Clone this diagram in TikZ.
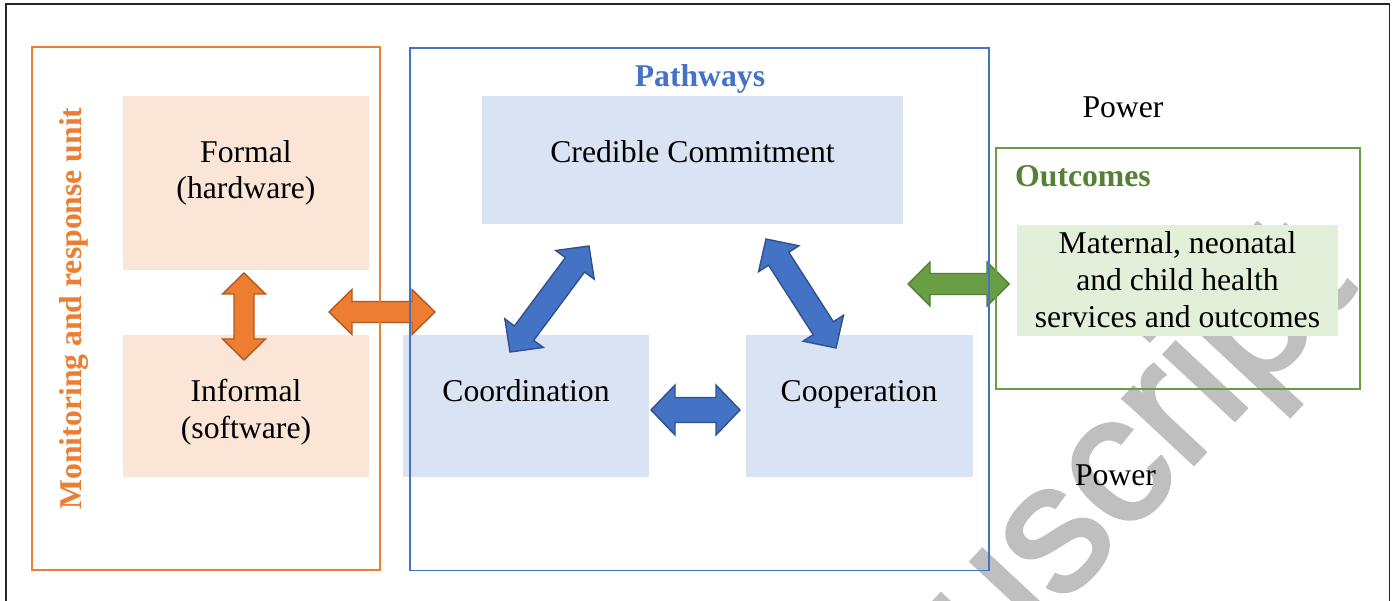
\documentclass[tikz,border=0pt]{standalone}
\usepackage{fontspec}
\setmainfont{Liberation Serif}
\newfontfamily\wmfont[FakeBold=2]{Liberation Sans}
\usetikzlibrary{calc,fit}
\definecolor{orgline}{HTML}{ED7D31}
\definecolor{orgfill}{HTML}{FBE5D6}
\definecolor{orgdark}{HTML}{AE5A21}
\definecolor{bluline}{HTML}{4472C4}
\definecolor{blufill}{HTML}{DAE3F3}
\definecolor{bludark}{HTML}{2F528F}
\definecolor{grnline}{HTML}{6A9E45}
\definecolor{grntext}{HTML}{548235}
\definecolor{grnfill}{HTML}{E2F0D9}
\definecolor{grndark}{HTML}{507E32}
\definecolor{wmgray}{HTML}{BFBFBF}
% #1 style, #2 start, #3 end, #4 shaft half width, #5 head half width, #6 head length, #7 name
\newcommand\blockarrow[7]{%
  \coordinate (#7-a) at ($(#2)!#6!(#3)$);
  \coordinate (#7-b) at ($(#3)!#6!(#2)$);
  \draw[#1] (#2) -- ($(#7-a)!#5!90:(#3)$) -- ($(#7-a)!#4!90:(#3)$)
    -- ($(#7-b)!#4!-90:(#2)$) -- ($(#7-b)!#5!-90:(#2)$) -- (#3)
    -- ($(#7-b)!#5!90:(#2)$) -- ($(#7-b)!#4!90:(#2)$)
    -- ($(#7-a)!#4!-90:(#3)$) -- ($(#7-a)!#5!-90:(#3)$) -- cycle;
}
\begin{document}
\begin{tikzpicture}[x=1pt,y=-1pt,
  txt/.style={font=\fontsize{31.7}{36.5}\selectfont, inner sep=0pt, align=center},
  btxt/.style={font=\fontsize{31.7}{36.5}\selectfont\bfseries, inner sep=0pt},
  fillbox/.style={inner sep=0pt, draw=none},
  framebox/.style={inner sep=0pt, line width=1.3pt},
  orgarrow/.style={fill=orgline, draw=orgdark, line width=1.4pt},
  bluarrow/.style={fill=bluline, draw=bludark, line width=1.4pt},
  grnarrow/.style={fill=grnline, draw=grndark, line width=1.4pt}
]
\useasboundingbox (0,0) rectangle (1392,601);
\fill[white] (0,0) rectangle (1392,601);

% watermark
\begin{scope}
\clip (0,0) rectangle (1392,601);
\node[font=\wmfont\fontsize{182}{182}\selectfont, text=wmgray, rotate=47,
      anchor=base east, inner sep=0pt] (wm) at (1358,288) {Manuscript};
\end{scope}

% box fills
\node[fillbox, fill=orgfill, fit={(123,96) (369,270)}] (formal) {};
\node[fillbox, fill=orgfill, fit={(123,335) (369,477)}] (informal) {};
\node[fillbox, fill=blufill, fit={(482,96) (903,224)}] (credible) {};
\node[fillbox, fill=blufill, fit={(403,335) (649,477)}] (coord) {};
\node[fillbox, fill=blufill, fit={(746,335) (973,477)}] (coop) {};
\node[fillbox, fill=grnfill, fit={(1017,225) (1338,336)}] (maternal) {};

% arrow end points
\coordinate (ov1) at (244,273);  \coordinate (ov2) at (244,360);
\coordinate (oh1) at (329,312);  \coordinate (oh2) at (435,312);
\coordinate (bh1) at (651,410);  \coordinate (bh2) at (740,410);
\coordinate (bl1) at (589,246);  \coordinate (bl2) at (510,352);
\coordinate (br1) at (766,239);  \coordinate (br2) at (836,348);
\coordinate (gh1) at (908,284);  \coordinate (gh2) at (1009,284);

\blockarrow{orgarrow}{ov1}{ov2}{10pt}{21.5pt}{21pt}{aov}
\blockarrow{orgarrow}{oh1}{oh2}{10.5pt}{22.5pt}{23pt}{aoh}
\blockarrow{bluarrow}{bh1}{bh2}{12.5pt}{25pt}{24pt}{abh}
\blockarrow{bluarrow}{bl1}{bl2}{12pt}{24pt}{23.5pt}{abl}
\blockarrow{bluarrow}{br1}{br2}{12pt}{24pt}{23.5pt}{abr}
\blockarrow{grnarrow}{gh1}{gh2}{10.5pt}{22pt}{22pt}{agh}

% frames
\draw[line width=1.5pt, black!85] (6,4) rectangle (1389.5,640);
\node[framebox, draw=orgline, fit={(32,47) (380,570)}] (mru) {};
\node[framebox, draw=bluline, fit={(410,48) (989,570.5)}] (pathways) {};
\node[framebox, draw=grnline, fit={(996,148) (1360,389)}] (outcomes) {};

% texts
\node[btxt, text=orgline, rotate=90, anchor=base] (mruT) at (81.7,308.5) {Monitoring and response unit};
\node[txt] (formalT) at (246,173) {Formal\\(hardware)};
\node[txt] (informalT) at (246,412.2) {Informal\\(software)};
\node[btxt, text=bluline, anchor=base] (pathT) at (700,87) {Pathways};
\node[txt, anchor=base] (credT) at (692.5,163) {Credible Commitment};
\node[txt, anchor=base] (coordT) at (526,402) {Coordination};
\node[txt, anchor=base] (coopT) at (859,402) {Cooperation};
\node[btxt, text=grntext, anchor=base west] (outT) at (1015,187) {Outcomes};
\node[txt, font=\fontsize{31.7}{37.2}\selectfont] (matT) at (1177.5,279.8) {Maternal, neonatal\\and child health\\services and outcomes};
\node[txt, anchor=base] (power1) at (1123,118) {Power};
\node[txt, anchor=base] (power2) at (1115.5,485.5) {Power};
\end{tikzpicture}
\end{document}
